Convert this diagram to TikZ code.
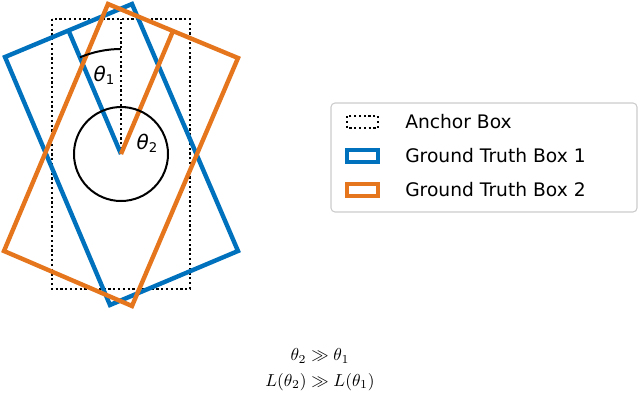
\documentclass[tikz,border=0pt]{standalone}
\usepackage{graphicx}
\usepackage{fontspec}
\newfontfamily\djv{DejaVu Sans}
\usetikzlibrary{calc}
\definecolor{mblue}{HTML}{0072BD}
\definecolor{morange}{HTML}{E6761E}
\begin{document}
\begin{tikzpicture}[x=0.75pt,y=-0.75pt,
  bx/.style={line width=3.3pt,line join=miter},
  anc/.style={line width=1.6pt,dotted},
  leg/.style={font=\djv\fontsize{14}{16}\selectfont,anchor=west,inner sep=0pt}]
\useasboundingbox (0,0) rectangle (640,407);
\coordinate (c) at (121,154);
% anchor
\draw[anc] (52,19) rectangle (190,289);
\draw[anc] (c) -- (121,19);
% blue
\coordinate (b1) at (5,57); \coordinate (b2) at (132,4); \coordinate (b3) at (238,251); \coordinate (b4) at (110,305);
\draw[bx,mblue] (b1)--(b2)--(b3)--(b4)--cycle;
\draw[bx,mblue] ($(b1)!0.5!(b2)$) -- (c);
% orange
\coordinate (o1) at (108,4); \coordinate (o2) at (238,58); \coordinate (o3) at (132,306); \coordinate (o4) at (4,251);
\draw[bx,morange] (o1)--(o2)--(o3)--(o4)--cycle;
\draw[bx,morange] ($(o1)!0.5!(o2)$) -- (c);
% arcs
\draw[line width=1.5pt] (121,49) arc[start angle=-90,end angle=-113,radius=105];
\draw[line width=1.5pt] (121,107) arc[start angle=-90,end angle=293,radius=47];
\node[font=\djv\itshape\fontsize{15}{16}\selectfont] (t1) at (104,75) {θ\raisebox{-0.3ex}{\upshape\fontsize{10}{10}\selectfont 1}};
\node[font=\djv\itshape\fontsize{15}{16}\selectfont] (t2) at (147,143) {θ\raisebox{-0.3ex}{\upshape\fontsize{10}{10}\selectfont 2}};
% legend
\draw[gray!40,line width=0.8pt,rounded corners=3pt,fill=white] (331,103) rectangle (637,212);
\draw[anc] (347,116) rectangle (378,128);
\draw[line width=3pt,mblue] (347,150) rectangle (378,162);
\draw[line width=3pt,morange] (347,184) rectangle (378,196);
\node[leg] (l1) at (405,122) {Anchor Box};
\node[leg] (l2) at (405,156) {Ground Truth Box 1};
\node[leg] (l3) at (405,190) {Ground Truth Box 2};
% formulas
\node (f1) at (320,356) {\scalebox{1.3}{$\theta_2 \gg \theta_1$}};
\node (f2) at (320,382) {\scalebox{1.3}{$L(\theta_2) \gg L(\theta_1)$}};
\end{tikzpicture}
\end{document}
